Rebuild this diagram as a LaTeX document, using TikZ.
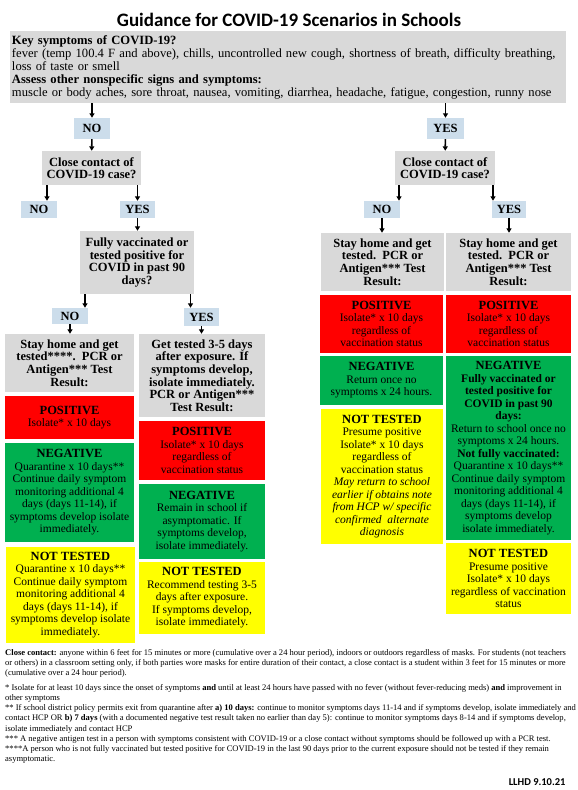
\documentclass[tikz,border=0pt]{standalone}
\usepackage{fontspec}
\setmainfont{Liberation Serif}
\newfontfamily\headfont{Carlito}
\usetikzlibrary{arrows.meta}
\definecolor{askgray}{HTML}{D9D9D9}
\definecolor{answerblue}{HTML}{CCDDEB}
\definecolor{posred}{HTML}{FF0000}
\definecolor{neggreen}{HTML}{00B050}
\definecolor{untestedyellow}{HTML}{FFFF00}
\newcommand{\verdict}[1]{{\fontsize{12.5}{12.5}\selectfont\bfseries #1}}

\begin{document}
\begin{tikzpicture}[
  x=1pt, y=-1pt,
  ask/.style={fill=askgray, font=\fontsize{12.5}{12.6}\selectfont\bfseries,
              align=center, inner sep=1pt},
  reply/.style={fill=answerblue, font=\fontsize{12.5}{12.5}\selectfont\bfseries,
                inner sep=0pt},
  result/.style={font=\fontsize{11.5}{12.5}\selectfont, align=center, inner sep=1pt},
  positive/.style={result, fill=posred},
  negative/.style={result, fill=neggreen},
  untested/.style={result, fill=untestedyellow},
  flow/.style={-{Triangle[length=4.5pt,width=5pt]}, line width=1.6pt, draw=black},
  footnote/.style={font=\fontsize{8.55}{10.2}\selectfont, align=left, inner sep=0pt,
                   anchor=north west}
]
\useasboundingbox (0,0) rectangle (578,790);

\node[font=\headfont\fontsize{19}{19}\selectfont\bfseries] (title) at (289,20)
  {Guidance for COVID-19 Scenarios in Schools};

\node[fill=askgray, font=\fontsize{12.6}{13}\selectfont, align=left, text width=552,
      inner xsep=2pt, minimum height=72] (symptoms) at (288,67)
  {\textbf{Key symptoms of COVID-19?}\\
   fever (temp 100.4 F and above), chills, uncontrolled new cough, shortness of breath, difficulty breathing,\\
   loss of taste or smell\\
   \textbf{Assess other nonspecific signs and symptoms:}\\
   muscle or body aches, sore throat, nausea, vomiting, diarrhea, headache, fatigue, congestion, runny nose};

% no symptoms branch
\node[reply, minimum width=36, minimum height=21] (noSym) at (92,128.5) {NO};
\node[ask, minimum width=99, minimum height=34] (contactL) at (91.5,168)
  {Close contact of\\COVID-19 case?};
\node[reply, minimum width=36, minimum height=17] (noContactL) at (39,209.5) {NO};
\node[reply, minimum width=35, minimum height=17] (yesContactL) at (137.5,209.5) {YES};
\node[ask, minimum width=114, minimum height=63] (vaccinated) at (137,262.5)
  {Fully vaccinated or\\tested positive for\\COVID in past 90\\days?};
\node[reply, minimum width=36, minimum height=16] (noVacc) at (70,316) {NO};
\node[reply, minimum width=35, minimum height=18] (yesVacc) at (201.5,317) {YES};

\node[ask, minimum width=129, minimum height=58] (stayNoVacc) at (69.5,363)
  {Stay home and get\\tested****.\ \ PCR or\\Antigen*** Test\\Result:};
\node[positive, minimum width=129, minimum height=43] (posNoVacc) at (69.5,417.5)
  {\verdict{POSITIVE}\\Isolate* x 10 days};
\node[negative, minimum width=129, minimum height=99] (negNoVacc) at (69.5,492.5)
  {\verdict{NEGATIVE}\\Quarantine x 10 days**\\Continue daily symptom\\monitoring additional 4\\
   days (days 11-14), if\\symptoms develop isolate\\immediately.};
\node[untested, minimum width=129, minimum height=96] (ntNoVacc) at (70.5,595)
  {\verdict{NOT TESTED}\\Quarantine x 10 days**\\Continue daily symptom\\monitoring additional 4\\
   days (days 11-14), if\\symptoms develop isolate\\immediately.};

\node[ask, minimum width=126, minimum height=83] (testVacc) at (202,375.5)
  {Get tested 3-5 days\\after exposure. If\\symptoms develop,\\isolate immediately.\\
   PCR or Antigen***\\Test Result:};
\node[positive, minimum width=126, minimum height=59] (posVacc) at (202,450.5)
  {\verdict{POSITIVE}\\Isolate* x 10 days\\regardless of\\vaccination status};
\node[negative, minimum width=126, minimum height=75] (negVacc) at (202,521.5)
  {\verdict{NEGATIVE}\\Remain in school if\\asymptomatic. If\\symptoms develop,\\isolate immediately.};
\node[untested, minimum width=126, minimum height=72] (ntVacc) at (202,598)
  {\verdict{NOT TESTED}\\Recommend testing 3-5\\days after exposure.\\If symptoms develop,\\isolate immediately.};

% symptoms branch
\node[reply, minimum width=37, minimum height=21] (yesSym) at (445.5,128.5) {YES};
\node[ask, minimum width=100, minimum height=34] (contactR) at (445,168)
  {Close contact of\\COVID-19 case?};
\node[reply, minimum width=36, minimum height=17] (noContactR) at (382,209.5) {NO};
\node[reply, minimum width=34, minimum height=17] (yesContactR) at (509,209.5) {YES};

\node[ask, minimum width=123, minimum height=58] (stayNoContact) at (382.5,262)
  {Stay home and get\\tested.\ \ PCR or\\Antigen*** Test\\Result:};
\node[ask, minimum width=125, minimum height=58] (stayContact) at (508.5,262)
  {Stay home and get\\tested.\ \ PCR or\\Antigen*** Test\\Result:};

\node[positive, minimum width=123, minimum height=58] (posNoContact) at (381.5,324)
  {\verdict{POSITIVE}\\Isolate* x 10 days\\regardless of\\vaccination status};
\node[negative, minimum width=123, minimum height=49] (negNoContact) at (381.5,380.5)
  {\verdict{NEGATIVE}\\Return once no\\symptoms x 24 hours.};
\node[untested, minimum width=122, minimum height=135] (ntNoContact) at (382,476.5)
  {\verdict{NOT TESTED}\\Presume positive\\Isolate* x 10 days\\regardless of\\vaccination status\\
   \textit{May return to school}\\\textit{earlier if obtains note}\\\textit{from HCP w/ specific}\\
   \textit{confirmed\ \ alternate}\\\textit{diagnosis}};

\node[positive, minimum width=125, minimum height=58] (posContact) at (508.5,324)
  {\verdict{POSITIVE}\\Isolate* x 10 days\\regardless of\\vaccination status};
\node[negative, minimum width=125, minimum height=184] (negContact) at (508.5,448)
  {\verdict{NEGATIVE}\\\textbf{Fully vaccinated or}\\\textbf{tested positive for}\\
   \textbf{COVID in past 90}\\\textbf{days:}\\Return to school once no\\symptoms x 24 hours.\\
   \textbf{Not fully vaccinated:}\\Quarantine x 10 days**\\Continue daily symptom\\
   monitoring additional 4\\days (days 11-14), if\\symptoms develop\\isolate immediately.};
\node[untested, minimum width=125, minimum height=71] (ntContact) at (508.5,578.5)
  {\verdict{NOT TESTED}\\Presume positive\\Isolate* x 10 days\\regardless of vaccination\\status};

% connectors
\draw[flow] (noSym.north |- symptoms.south) -- (noSym.north);
\draw[flow] (yesSym.north |- symptoms.south) -- (yesSym.north);
\draw[flow] (noSym) -- (contactL);
\draw[flow] (yesSym) -- (contactR);
\draw[flow] ([xshift=8pt]noContactL.north |- contactL.south) -- ([xshift=8pt]noContactL.north);
\draw[flow] (yesContactL.north |- contactL.south) -- (yesContactL.north);
\draw[flow] (yesContactL.south) -- (yesContactL.south |- vaccinated.north);
\draw[flow] ([xshift=15pt]noVacc.north |- vaccinated.south) -- ([xshift=15pt]noVacc.north);
\draw[flow] ([xshift=-11pt]yesVacc.north |- vaccinated.south) -- ([xshift=-11pt]yesVacc.north);
\draw[flow] (noVacc.south) -- (noVacc.south |- stayNoVacc.north);
\draw[flow] (yesVacc.south) -- (yesVacc.south |- testVacc.north);
\draw[flow] ([xshift=17pt]noContactR.north |- contactR.south) -- ([xshift=17pt]noContactR.north);
\draw[flow] ([xshift=-16pt]yesContactR.north |- contactR.south) -- ([xshift=-16pt]yesContactR.north);
\draw[flow] (noContactR.south) -- (noContactR.south |- stayNoContact.north);
\draw[flow] (yesContactR.south) -- (yesContactR.south |- stayContact.north);

% notes
\node[footnote] (closeNote) at (5,649)
  {\textbf{Close contact:} anyone within 6 feet for 15 minutes or more (cumulative over a 24 hour period), indoors or outdoors regardless of masks. For students (not teachers\\
   or others) in a classroom setting only, if both parties wore masks for entire duration of their contact, a close contact is a student within 3 feet for 15 minutes or more\\
   (cumulative over a 24 hour period).};
\node[footnote] (starNotes) at (5,684)
  {* Isolate for at least 10 days since the onset of symptoms \textbf{and} until at least 24 hours have passed with no fever (without fever-reducing meds) \textbf{and} improvement in\\
   other symptoms\\
   ** If school district policy permits exit from quarantine after \textbf{a) 10 days:} continue to monitor symptoms days 11-14 and if symptoms develop, isolate immediately and\\
   contact HCP OR \textbf{b) 7 days} (with a documented negative test result taken no earlier than day 5): continue to monitor symptoms days 8-14 and if symptoms develop,\\
   isolate immediately and contact HCP\\
   *** A negative antigen test in a person with symptoms consistent with COVID-19 or a close contact without symptoms should be followed up with a PCR test.\\
   ****A person who is not fully vaccinated but tested positive for COVID-19 in the last 90 days prior to the current exposure should not be tested if they remain\\
   asymptomatic.};
\node[font=\headfont\fontsize{10.5}{10.5}\selectfont\bfseries, anchor=east] (version) at (569,782)
  {LLHD 9.10.21};

\end{tikzpicture}
\end{document}
